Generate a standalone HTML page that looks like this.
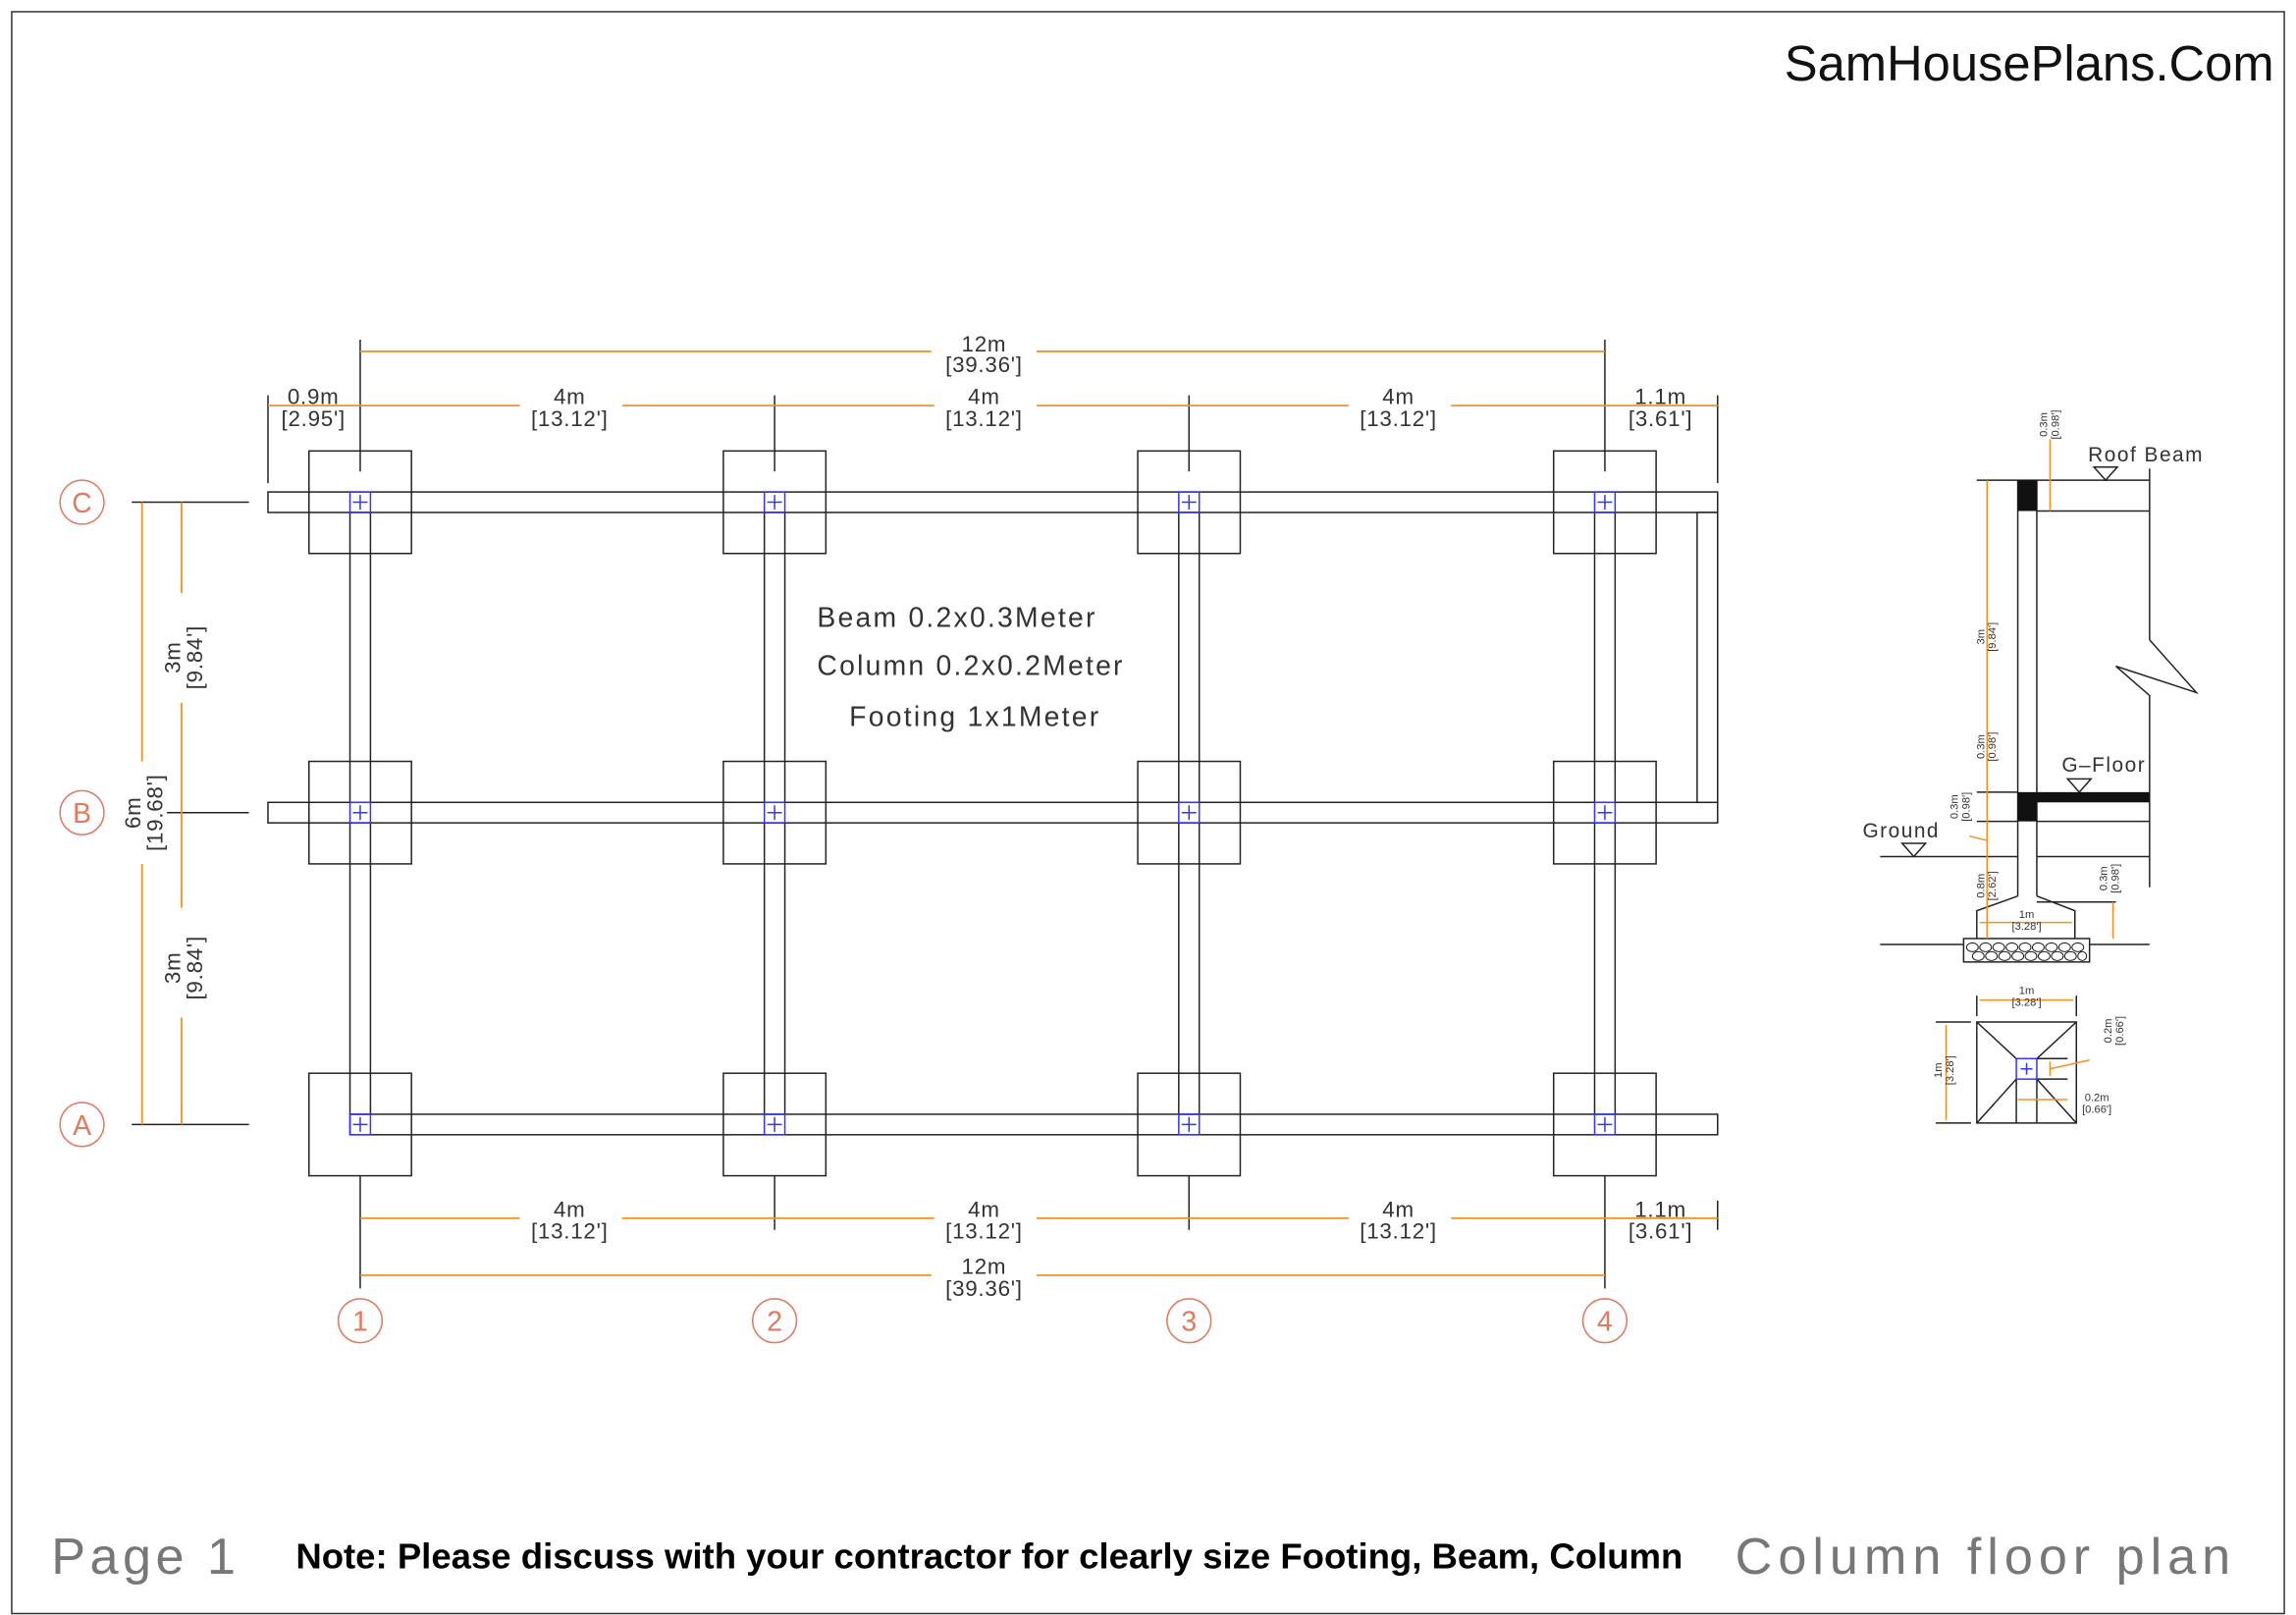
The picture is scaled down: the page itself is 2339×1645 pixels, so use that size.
<!DOCTYPE html>
<html><head><meta charset="utf-8"><style>html,body{margin:0;padding:0;background:#fff}svg{display:block}</style></head>
<body>
<svg width="2339" height="1645" viewBox="0 0 1568 1103" preserveAspectRatio="none" xmlns="http://www.w3.org/2000/svg" font-family="Liberation Sans, sans-serif">
<rect x="0" y="0" width="1568" height="1103" fill="#fff"/>
<rect x="8" y="8" width="1552" height="1094" fill="none" stroke="#333" stroke-width="1"/>
<text x="1553" y="55" font-size="34" text-anchor="end" fill="#111">SamHousePlans.Com</text>
<text x="35" y="1075" font-size="35" fill="#777" letter-spacing="3">Page  1</text>
<text x="202" y="1071" font-size="24.5" font-weight="bold" fill="#000">Note: Please discuss with your contractor for clearly size Footing, Beam, Column</text>
<text x="1185" y="1075" font-size="35" fill="#777" letter-spacing="4">Column  floor  plan</text>

<g stroke="#222" stroke-width="1" fill="none">
<!-- beams -->
<rect x="183" y="336" width="990" height="14" fill="#fff"/>
<rect x="183" y="548" width="990" height="14" fill="#fff"/>
<rect x="239" y="761" width="934" height="14" fill="#fff"/>
<rect x="1159" y="350" width="14" height="198" fill="#fff"/>
<g fill="#fff">
<rect x="239" y="350" width="14" height="198"/><rect x="239" y="562" width="14" height="199"/>
<rect x="522" y="350" width="14" height="198"/><rect x="522" y="562" width="14" height="199"/>
<rect x="805" y="350" width="14" height="198"/><rect x="805" y="562" width="14" height="199"/>
<rect x="1089" y="350" width="14" height="198"/><rect x="1089" y="562" width="14" height="199"/>
</g>
<!-- footings -->
<rect x="211" y="308" width="70" height="70"/><rect x="494" y="308" width="70" height="70"/><rect x="777" y="308" width="70" height="70"/><rect x="1061" y="308" width="70" height="70"/>
<rect x="211" y="520" width="70" height="70"/><rect x="494" y="520" width="70" height="70"/><rect x="777" y="520" width="70" height="70"/><rect x="1061" y="520" width="70" height="70"/>
<rect x="211" y="733" width="70" height="70"/><rect x="494" y="733" width="70" height="70"/><rect x="777" y="733" width="70" height="70"/><rect x="1061" y="733" width="70" height="70"/>
<!-- grid axis lines -->
<line x1="246" y1="232" x2="246" y2="322"/><line x1="529" y1="270" x2="529" y2="322"/><line x1="812" y1="270" x2="812" y2="322"/><line x1="1096" y1="232" x2="1096" y2="322"/>
<line x1="246" y1="803" x2="246" y2="880"/><line x1="529" y1="803" x2="529" y2="840"/><line x1="812" y1="803" x2="812" y2="840"/><line x1="1096" y1="803" x2="1096" y2="880"/>
<line x1="183" y1="270" x2="183" y2="330"/><line x1="1173" y1="270" x2="1173" y2="330"/><line x1="1173" y1="820" x2="1173" y2="840"/>
<line x1="90" y1="343" x2="170" y2="343"/><line x1="90" y1="555" x2="170" y2="555"/><line x1="90" y1="768" x2="170" y2="768"/>
</g>
<!-- columns -->
<g stroke="#33f" stroke-width="1" fill="none">
<rect x="239" y="336" width="14" height="14"/><rect x="522" y="336" width="14" height="14"/><rect x="805" y="336" width="14" height="14"/><rect x="1089" y="336" width="14" height="14"/>
<rect x="239" y="548" width="14" height="14"/><rect x="522" y="548" width="14" height="14"/><rect x="805" y="548" width="14" height="14"/><rect x="1089" y="548" width="14" height="14"/>
<rect x="239" y="761" width="14" height="14"/><rect x="522" y="761" width="14" height="14"/><rect x="805" y="761" width="14" height="14"/><rect x="1089" y="761" width="14" height="14"/>
<path d="M241 343h10M246 338v10M524 343h10M529 338v10M807 343h10M812 338v10M1091 343h10M1096 338v10M241 555h10M246 550v10M524 555h10M529 550v10M807 555h10M812 550v10M1091 555h10M1096 550v10M241 768h10M246 763v10M524 768h10M529 763v10M807 768h10M812 763v10M1091 768h10M1096 763v10"/>
</g>
<!-- dimensions -->
<g stroke="#f39220" stroke-width="1.2" fill="none">
<line x1="246" y1="240" x2="1096" y2="240"/>
<line x1="183" y1="277" x2="1173" y2="277"/>
<line x1="246" y1="832" x2="1173" y2="832"/>
<line x1="246" y1="871" x2="1096" y2="871"/>
<line x1="97" y1="343" x2="97" y2="768"/>
<line x1="124" y1="343" x2="124" y2="768"/>
</g>
<g fill="#fff">
<rect x="355" y="262" width="70" height="32"/><rect x="638" y="262" width="70" height="32"/><rect x="921" y="262" width="70" height="32"/>
<rect x="355" y="818" width="70" height="32"/><rect x="638" y="818" width="70" height="32"/><rect x="921" y="818" width="70" height="32"/>
<rect x="636" y="226" width="72" height="32"/><rect x="636" y="857" width="72" height="32"/>
<rect x="110" y="405" width="32" height="75"/><rect x="110" y="620" width="32" height="75"/><rect x="82" y="520" width="32" height="70"/>
</g>
<g font-size="15" fill="#333" text-anchor="middle" letter-spacing="0.5">
<text x="672" y="240">12m</text><text x="672" y="254">[39.36']</text>
<text x="214" y="276">0.9m</text><text x="214" y="291">[2.95']</text>
<text x="389" y="276">4m</text><text x="389" y="291">[13.12']</text>
<text x="672" y="276">4m</text><text x="672" y="291">[13.12']</text>
<text x="955" y="276">4m</text><text x="955" y="291">[13.12']</text>
<text x="1134" y="276">1.1m</text><text x="1134" y="291">[3.61']</text>
<text x="389" y="831">4m</text><text x="389" y="846">[13.12']</text>
<text x="672" y="831">4m</text><text x="672" y="846">[13.12']</text>
<text x="955" y="831">4m</text><text x="955" y="846">[13.12']</text>
<text x="1134" y="831">1.1m</text><text x="1134" y="846">[3.61']</text>
<text x="672" y="870">12m</text><text x="672" y="885">[39.36']</text>
<text transform="translate(123,449) rotate(-90)">3m</text><text transform="translate(138,449) rotate(-90)">[9.84']</text>
<text transform="translate(123,661) rotate(-90)">3m</text><text transform="translate(138,661) rotate(-90)">[9.84']</text>
<text transform="translate(96,555) rotate(-90)">6m</text><text transform="translate(111,555) rotate(-90)">[19.68']</text>
</g>
<g font-size="19" fill="#333" letter-spacing="1.5">
<text x="558" y="428">Beam  0.2x0.3Meter</text>
<text x="558" y="461">Column  0.2x0.2Meter</text>
<text x="580" y="496">Footing  1x1Meter</text>
</g>
<!-- bubbles -->
<g stroke="#e07a5f" stroke-width="1" fill="none">
<circle cx="56" cy="343" r="15"/><circle cx="56" cy="555" r="15"/><circle cx="56" cy="768" r="15"/>
<circle cx="246" cy="902" r="15"/><circle cx="529" cy="902" r="15"/><circle cx="812" cy="902" r="15"/><circle cx="1096" cy="902" r="15"/>
</g>
<g font-size="19" fill="#e07a5f" text-anchor="middle">
<text x="56" y="350">C</text><text x="56" y="562">B</text><text x="56" y="775">A</text>
<text x="246" y="909">1</text><text x="529" y="909">2</text><text x="812" y="909">3</text><text x="1096" y="909">4</text>
</g>

<!-- section detail -->
<g stroke="#222" stroke-width="1" fill="none">
<line x1="1350" y1="328" x2="1468" y2="328"/>
<line x1="1391" y1="349" x2="1468" y2="349"/>
<line x1="1468" y1="320" x2="1468" y2="437"/>
<path d="M1468 437 L1500 473 L1445 455 L1468 475 L1468 606"/>
<line x1="1378" y1="328" x2="1378" y2="612"/>
<line x1="1391" y1="328" x2="1391" y2="612"/>
<path d="M1378 612 L1350 622 L1350 641 M1391 612 L1417 622 L1417 641"/>
<line x1="1391" y1="616" x2="1445" y2="616"/>
<line x1="1350" y1="541" x2="1378" y2="541"/>
<line x1="1350" y1="561" x2="1378" y2="561"/>
<line x1="1391" y1="561" x2="1468" y2="561"/>
<line x1="1284" y1="585" x2="1378" y2="585"/><line x1="1391" y1="585" x2="1468" y2="585"/>
<line x1="1284" y1="645" x2="1468" y2="645"/>
<rect x="1341" y="641" width="86" height="16" fill="#fff"/>
<g stroke-width="0.7">
<ellipse cx="1347" cy="647" rx="4" ry="3"/><ellipse cx="1356" cy="647" rx="4" ry="3"/><ellipse cx="1365" cy="647" rx="4" ry="3"/><ellipse cx="1374" cy="647" rx="4" ry="3"/><ellipse cx="1383" cy="647" rx="4" ry="3"/><ellipse cx="1392" cy="647" rx="4" ry="3"/><ellipse cx="1401" cy="647" rx="4" ry="3"/><ellipse cx="1410" cy="647" rx="4" ry="3"/><ellipse cx="1419" cy="647" rx="4" ry="3"/>
<ellipse cx="1351" cy="653" rx="4" ry="3"/><ellipse cx="1360" cy="653" rx="4" ry="3"/><ellipse cx="1369" cy="653" rx="4" ry="3"/><ellipse cx="1378" cy="653" rx="4" ry="3"/><ellipse cx="1387" cy="653" rx="4" ry="3"/><ellipse cx="1396" cy="653" rx="4" ry="3"/><ellipse cx="1405" cy="653" rx="4" ry="3"/><ellipse cx="1414" cy="653" rx="4" ry="3"/><ellipse cx="1422" cy="653" rx="3" ry="3"/>
</g>
<path d="M1438 328 l8 -9 h-16 z M1420 541 l8 -9 h-16 z M1307 585 l8 -9 h-16 z"/>
<rect x="1350" y="698" width="68" height="69"/>
<path d="M1350 698 L1377 723 M1418 698 L1391 723 M1350 767 L1377 737 M1418 767 L1391 737"/>
<line x1="1350" y1="680" x2="1350" y2="694"/><line x1="1418" y1="680" x2="1418" y2="694"/>
<line x1="1322" y1="698" x2="1346" y2="698"/><line x1="1322" y1="767" x2="1346" y2="767"/>
<line x1="1391" y1="723" x2="1412" y2="723"/><line x1="1391" y1="737" x2="1412" y2="737"/>
<line x1="1377" y1="737" x2="1377" y2="767"/><line x1="1391" y1="737" x2="1391" y2="767"/>
</g>
<rect x="1378" y="328" width="13" height="21" fill="#111"/>
<rect x="1378" y="541" width="13" height="20" fill="#111"/>
<rect x="1391" y="541" width="77" height="7" fill="#111"/>
<rect x="1377" y="723" width="14" height="14" fill="none" stroke="#33f"/>
<path d="M1380 730h8M1384 726v8" stroke="#33f"/>
<g stroke="#f39220" stroke-width="1" fill="none">
<line x1="1357" y1="328" x2="1357" y2="641"/>
<line x1="1400" y1="300" x2="1400" y2="349"/>
<line x1="1443" y1="616" x2="1443" y2="641"/>
<line x1="1352" y1="630" x2="1415" y2="630"/>
<line x1="1352" y1="683" x2="1416" y2="683"/>
<line x1="1329" y1="700" x2="1329" y2="765"/>
<line x1="1400" y1="725" x2="1400" y2="735"/>
<path d="M1400 730 L1427 724"/>
<line x1="1378" y1="751" x2="1412" y2="751"/>
<path d="M1357 574 L1345 571"/>
</g>
<g font-size="7.5" fill="#333" text-anchor="middle">
<text transform="translate(1398,290) rotate(-90)">0.3m</text><text transform="translate(1406,290) rotate(-90)">[0.98']</text>
<text transform="translate(1355,435) rotate(-90)">3m</text><text transform="translate(1363,435) rotate(-90)">[9.84']</text>
<text transform="translate(1355,510) rotate(-90)">0.3m</text><text transform="translate(1363,510) rotate(-90)">[0.98']</text>
<text transform="translate(1337,551) rotate(-90)">0.3m</text><text transform="translate(1345,551) rotate(-90)">[0.98']</text>
<text transform="translate(1355,605) rotate(-90)">0.8m</text><text transform="translate(1363,605) rotate(-90)">[2.62']</text>
<text transform="translate(1439,600) rotate(-90)">0.3m</text><text transform="translate(1447,600) rotate(-90)">[0.98']</text>
<text x="1384" y="627">1m</text><text x="1384" y="635">[3.28']</text>
<text x="1384" y="679">1m</text><text x="1384" y="687">[3.28']</text>
<text transform="translate(1326,731) rotate(-90)">1m</text><text transform="translate(1334,731) rotate(-90)">[3.28']</text>
<text transform="translate(1442,704) rotate(-90)">0.2m</text><text transform="translate(1450,704) rotate(-90)">[0.66']</text>
<text x="1432" y="752">0.2m</text><text x="1432" y="760">[0.66']</text>
</g>
<g font-size="14" fill="#333" letter-spacing="1">
<text x="1426" y="315">Roof  Beam</text>
<text x="1408" y="527">G–Floor</text>
<text x="1272" y="572">Ground</text>
</g>
</svg>
</body></html>
